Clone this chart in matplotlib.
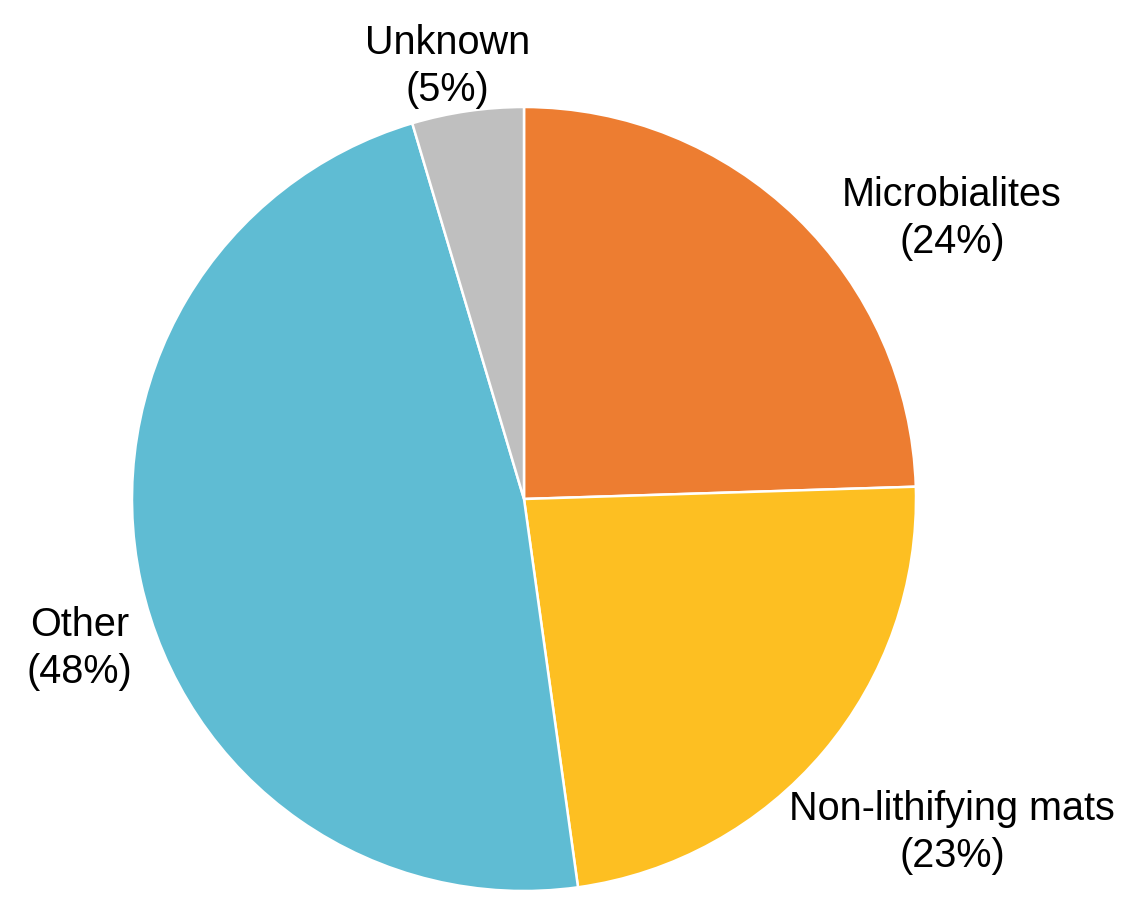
import matplotlib
matplotlib.use('Agg')
import matplotlib.pyplot as plt

plt.rcParams['font.family'] = ['Liberation Sans', 'DejaVu Sans']

# slice shares (labels show rounded values)
categories = ['Microbialites', 'Non-lithifying mats', 'Other', 'Unknown']
shares = [24.5, 23.3, 47.6, 4.6]
pct_labels = ['24%', '23%', '48%', '5%']
colors = ['#ED7D31', '#FDBF22', '#5FBCD3', '#BFBFBF']

# label centres in pie-radius units
label_pos = [(1.092, 0.717), (1.092, -0.847), (-1.133, -0.378), (-0.196, 1.107)]

W, H = 1140, 904
cx, cy, r = 524, 500, 392

fig = plt.figure(figsize=(W / 100, H / 100), dpi=100)
ax = fig.add_axes([0, 0, 1, 1])
ax.pie(shares, colors=colors, startangle=90, counterclock=False,
       radius=1.0, wedgeprops=dict(edgecolor='white', linewidth=1.8))
ax.set_xlim(-cx / r, (W - cx) / r)
ax.set_ylim(-(H - cy) / r, cy / r)
ax.set_aspect('equal')
ax.axis('off')

for name, pct, (x, y) in zip(categories, pct_labels, label_pos):
    ax.text(x, y, f'{name}\n({pct})', ha='center', va='center',
            fontsize=28.5, linespacing=1.3, color='black')

fig.savefig('out.png', dpi=100)
